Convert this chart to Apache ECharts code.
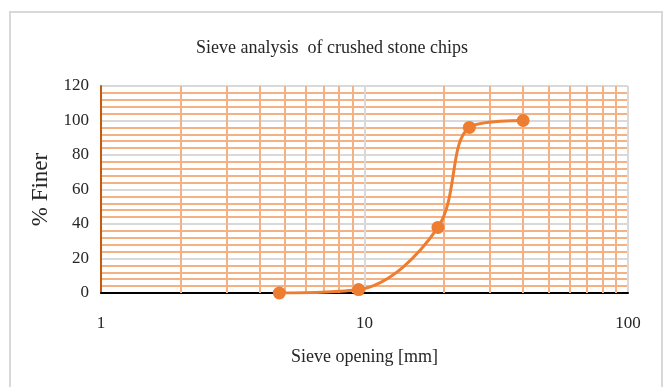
<!DOCTYPE html>
<html>
<head>
<meta charset="utf-8">
<script src="https://cdn.jsdelivr.net/npm/echarts@6/dist/echarts.min.js"></script>
<style>
  html, body { margin: 0; padding: 0; background: #fff; }
  #chart { width: 664px; height: 387px; }
</style>
</head>
<body>
<div id="chart"></div>
<script>
// Sieve opening sizes (mm) and cumulative percent passing
const sieveSizes = [4.75, 9.5, 19, 25, 40];
const percentFiner = [0, 2, 38, 96, 100];

// Intermediate decade lines for the log-scaled opening axis
const minorSieveLines = [2, 3, 4, 5, 6, 7, 8, 9, 20, 30, 40, 50, 60, 70, 80, 90];

const serif = '"Liberation Serif", "Times New Roman", serif';
const orange = '#ed7d31';
const minorOrange = '#f4b183';
const gray = '#d9d9d9';

const chart = echarts.init(document.getElementById('chart'));

chart.setOption({
  animation: false,
  backgroundColor: '#fff',
  graphic: [{
    type: 'rect',
    shape: { x: 10, y: 12, width: 652, height: 400 },
    style: { fill: 'none', stroke: gray, lineWidth: 2 },
    silent: true
  }],
  title: {
    text: 'Sieve analysis  of crushed stone chips',
    left: 'center',
    top: 34,
    textStyle: { fontFamily: serif, fontSize: 18, fontWeight: 'normal', color: '#262626' }
  },
  grid: { left: 101, right: 36, top: 86, bottom: 94 },
  xAxis: {
    type: 'log',
    logBase: 10,
    min: 1,
    max: 100,
    name: 'Sieve opening [mm]',
    nameLocation: 'middle',
    nameGap: 55,
    nameTextStyle: { fontFamily: serif, fontSize: 18, color: '#262626' },
    axisLine: { show: true, onZero: false, lineStyle: { color: '#000', width: 2 } },
    axisTick: { show: false },
    axisLabel: { fontFamily: serif, fontSize: 17, color: '#262626', margin: 22 },
    splitLine: { show: true, lineStyle: { color: gray, width: 2 } },
    minorTick: { show: false },
    minorSplitLine: { show: false }
  },
  yAxis: {
    type: 'value',
    min: 0,
    max: 120,
    interval: 20,
    name: '% Finer',
    nameLocation: 'middle',
    nameGap: 46,
    nameTextStyle: { fontFamily: serif, fontSize: 23, color: '#262626' },
    axisLine: { show: true, lineStyle: { color: '#c55a11', width: 2 } },
    axisTick: { show: false },
    axisLabel: { fontFamily: serif, fontSize: 17, color: '#262626', margin: 12 },
    splitLine: { show: true, lineStyle: { color: gray, width: 2 } },
    minorTick: { show: false, splitNumber: 5 },
    minorSplitLine: { show: true, lineStyle: { color: minorOrange, width: 2 } }
  },
  series: [
    {
      // carries only the intermediate vertical grid lines
      type: 'line',
      data: [],
      z: 1,
      markLine: {
        silent: true,
        symbol: 'none',
        label: { show: false },
        lineStyle: { color: minorOrange, width: 2, type: 'solid' },
        data: minorSieveLines.map(v => ({ xAxis: v }))
      }
    },
    {
      type: 'line',
      data: sieveSizes.map((s, i) => [s, percentFiner[i]]),
      smooth: 0.35,
      symbol: 'circle',
      symbolSize: 13,
      lineStyle: { color: orange, width: 3 },
      itemStyle: { color: orange },
      z: 5
    }
  ]
});
</script>
</body>
</html>
